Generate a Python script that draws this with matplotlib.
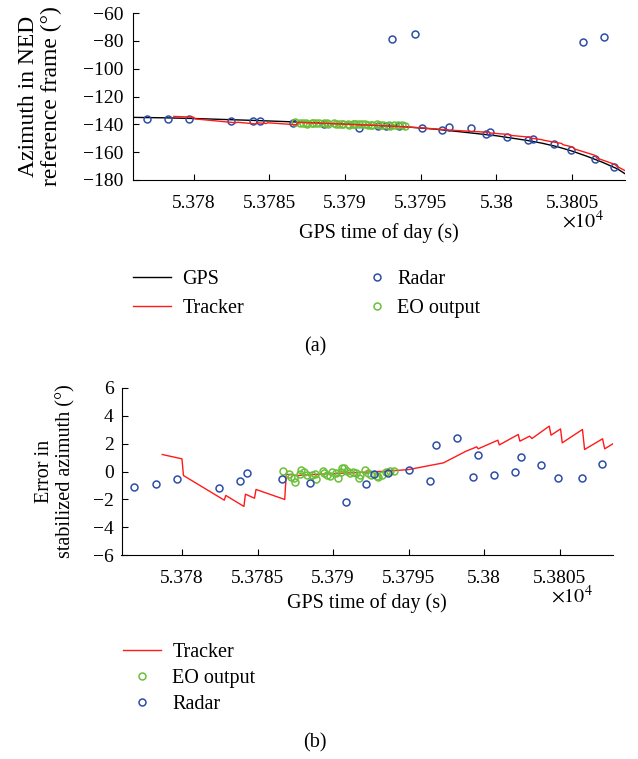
import matplotlib
matplotlib.use("Agg")
import matplotlib.pyplot as plt
from matplotlib.ticker import MultipleLocator, FuncFormatter

plt.rcParams["font.family"] = ["Liberation Serif", "DejaVu Serif"]
plt.rcParams["mathtext.fontset"] = "stix"

# ---- (a) azimuth in NED frame ----
gps_t = [53776, 53778, 53780, 53782, 53784, 53786, 53788, 53790, 53792, 53794,
         53796, 53798, 53800, 53802, 53803, 53804, 53805, 53806, 53807, 53808, 53808.5]
gps_az = [-135.0, -135.3, -135.8, -136.5, -137.2, -138.0, -138.8, -139.7, -140.7, -141.8,
          -143.5, -145.8, -148.2, -151.5, -153.5, -156.0, -159.2, -163.0, -167.2, -172.0, -175.5]

trk_t = [53778.7, 53780.0, 53780.1, 53782.8, 53782.9, 53784.1, 53784.2, 53784.8, 53784.9,
         53786.8, 53786.9, 53787.6, 53789.0, 53791.0, 53793.5, 53795.0, 53797.3, 53798.8,
         53799.5, 53799.6, 53800.9, 53801.0, 53802.25, 53802.36, 53803.0, 53803.16,
         53804.3, 53804.42, 53805.05, 53805.16, 53806.5, 53806.64, 53807.83, 53807.97, 53808.54]
trk_az = [-134.3, -134.9, -136.1, -138.9, -138.5, -139.7, -138.9, -139.4, -138.9,
          -140.3, -138.6, -138.9, -139.5, -140.3, -141.5, -142.5, -144.4, -145.3,
          -145.8, -146.2, -147.4, -148.0, -149.3, -150.0, -151.0, -151.5,
          -153.7, -154.7, -156.3, -157.7, -162.2, -164.2, -168.8, -170.2, -173.5]
trk_err = [1.22, 0.91, -0.29, -2.06, -1.72, -2.51, -1.63, -1.92, -1.29,
           -2.01, -0.19, -0.29, -0.2, -0.1, 0.02, 0.14, 0.62, 1.46,
           1.77, 1.63, 2.25, 1.91, 2.66, 2.18, 2.54, 2.37,
           3.26, 2.61, 3.06, 2.06, 3.02, 1.58, 2.35, 1.63, 2.01]

radar_t_a = [53776.9, 53778.3, 53779.7, 53782.5, 53783.9, 53784.4, 53786.6, 53788.6,
             53790.9, 53792.2, 53792.7, 53793.1, 53793.6, 53794.6, 53795.1, 53796.4,
             53796.9, 53798.3, 53799.3, 53799.6, 53800.7, 53802.1, 53802.4, 53803.8,
             53804.9, 53805.7, 53806.5, 53807.1, 53807.8]
radar_az = [-136.4, -136.4, -136.4, -137.8, -137.8, -137.4, -138.8, -139.8,
            -142.4, -141.5, -141.2, -78.7, -141.5, -75.1, -142.6, -144.3,
            -142.1, -142.9, -147.2, -145.8, -149.1, -151.3, -150.3, -154.4,
            -158.7, -80.8, -164.9, -77.5, -170.4]

eo_t = [53786.67, 53787.06, 53787.2, 53787.4, 53787.5, 53787.8, 53787.9, 53788.1,
        53788.3, 53788.6, 53788.8, 53788.9, 53789.3, 53789.4, 53789.6, 53789.8,
        53789.9, 53790.2, 53790.3, 53790.5, 53790.6, 53790.7, 53790.9, 53791.1,
        53791.3, 53791.5, 53791.7, 53791.8, 53792.1, 53792.3, 53792.5, 53792.9,
        53793.0, 53793.25, 53793.5, 53793.75, 53794.0]
eo_az = [-138.4, -138.8, -139.0, -139.2, -139.5, -139.0, -138.8, -139.0,
         -139.3, -139.4, -139.4, -139.8, -139.4, -139.5, -139.7, -139.9,
         -139.6, -139.8, -140.2, -139.8, -139.5, -139.6, -139.9, -140.1,
         -140.0, -140.2, -140.6, -140.4, -140.1, -140.4, -140.6, -140.8,
         -140.9, -140.8, -140.7, -140.7, -140.9]

# ---- (b) error in stabilized azimuth ----
eo_err = [0.07, -0.17, -0.36, -0.5, -0.77, -0.17, 0.12, -0.02,
          -0.26, -0.22, -0.17, -0.57, 0.02, -0.1, -0.22, -0.34,
          -0.02, -0.1, -0.5, -0.02, 0.27, 0.22, 0.02, -0.14,
          -0.02, -0.12, -0.5, -0.26, 0.1, -0.1, -0.22, -0.34,
          -0.41, -0.22, -0.02, 0.07, 0.02]

radar_t_b = [53776.84, 53778.25, 53779.67, 53782.45, 53783.86, 53784.32, 53786.64, 53788.5,
             53790.86, 53792.2, 53792.7, 53793.6, 53795.03, 53796.44, 53796.84, 53798.2,
             53799.25, 53799.6, 53800.64, 53802.03, 53802.4, 53803.77, 53804.9, 53806.5,
             53807.77]
radar_err = [-1.13, -0.89, -0.53, -1.15, -0.65, -0.14, -0.57, -0.84,
             -2.16, -0.93, -0.19, -0.12, 0.14, -0.69, 1.91, 2.42,
             -0.36, 1.22, -0.26, -0.07, 1.01, 0.46, -0.48, -0.5,
             0.53]

BLUE = "#2b4ea6"
GREEN = "#6cbf3a"
RED = "#ff1a1a"

W, H = 638, 759


def rect(x0, y0, x1, y1):
    return [x0 / W, 1 - y1 / H, (x1 - x0) / W, (y1 - y0) / H]


def style_axis(ax, ypad, labelpad):
    ax.spines["top"].set_visible(False)
    ax.spines["right"].set_visible(False)
    ax.set_xlim(53776, 53808.5)
    ax.xaxis.set_major_locator(MultipleLocator(5))
    ax.xaxis.set_major_formatter(FuncFormatter(lambda v, p: "%g" % (v / 1e4)))
    ax.tick_params(direction="in", length=4, labelsize=14)
    ax.tick_params(axis="x", pad=11)
    ax.tick_params(axis="y", pad=ypad)
    ax.set_xlabel("GPS time of day (s)", fontsize=14.5, labelpad=labelpad)


fig = plt.figure(figsize=(6.38, 7.59), dpi=100)

ax1 = fig.add_axes(rect(133, 13, 625, 180))
h_gps, = ax1.plot(gps_t, gps_az, color="black", lw=1.0, label="GPS")
h_rad, = ax1.plot(radar_t_a, radar_az, "o", mfc="none", mec=BLUE, ms=5, mew=1.1,
                  label="Radar")
h_eo, = ax1.plot(eo_t, eo_az, "o", mfc="none", mec=GREEN, ms=5, mew=1.1,
                 label="EO output")
h_trk, = ax1.plot(trk_t, trk_az, color=RED, lw=1.0, label="Tracker")
style_axis(ax1, ypad=7, labelpad=8)
ax1.set_ylim(-180, -60)
ax1.yaxis.set_major_locator(MultipleLocator(20))
ax1.set_ylabel("Azimuth in NED\nreference frame (°)", fontsize=17, linespacing=1.1)
ax1.yaxis.set_label_coords(-0.144, 0.5)
fig.text(583 / W, 1 - 222 / H, r"$\times10^{4}$", fontsize=14.5, ha="center", va="center")

leg_kw = dict(loc="upper left", frameon=False, borderpad=0, borderaxespad=0,
              fontsize=14.5)
fig.legend([h_gps, h_trk], ["GPS", "Tracker"], bbox_to_anchor=(133 / W, 1 - 270 / H),
           handlelength=1.9, handletextpad=0.55, labelspacing=0.5, **leg_kw)
fig.legend([h_rad, h_eo], ["Radar", "EO output"], bbox_to_anchor=(371 / W, 1 - 270 / H),
           handlelength=0.6, handletextpad=0.7, labelspacing=0.5, numpoints=1, **leg_kw)
fig.text(315 / W, 1 - 347 / H, "(a)", fontsize=14.5, ha="center", va="center")

ax2 = fig.add_axes(rect(121.5, 388, 612.7, 555))
h_trk2, = ax2.plot(trk_t, trk_err, color=RED, lw=1.0, label="Tracker")
h_eo2, = ax2.plot(eo_t, eo_err, "o", mfc="none", mec=GREEN, ms=5, mew=1.1,
                  label="EO output")
h_rad2, = ax2.plot(radar_t_b, radar_err, "o", mfc="none", mec=BLUE, ms=5, mew=1.1,
                   label="Radar")
style_axis(ax2, ypad=5.5, labelpad=4)
ax2.set_ylim(-6, 6)
ax2.yaxis.set_major_locator(MultipleLocator(2))
ax2.set_ylabel("Error in\nstabilized azimuth (°)", fontsize=14.5, linespacing=1.2)
ax2.yaxis.set_label_coords(-0.093, 0.5)
fig.text(572 / W, 1 - 597 / H, r"$\times10^{4}$", fontsize=14.5, ha="center", va="center")

fig.legend([h_trk2, h_eo2, h_rad2], ["Tracker", "EO output", "Radar"],
           bbox_to_anchor=(123 / W, 1 - 643 / H), handlelength=1.9, handletextpad=0.55,
           labelspacing=0.35, numpoints=1, **leg_kw)
fig.text(315 / W, 1 - 743 / H, "(b)", fontsize=14.5, ha="center", va="center")

fig.savefig("out.png", dpi=100)
